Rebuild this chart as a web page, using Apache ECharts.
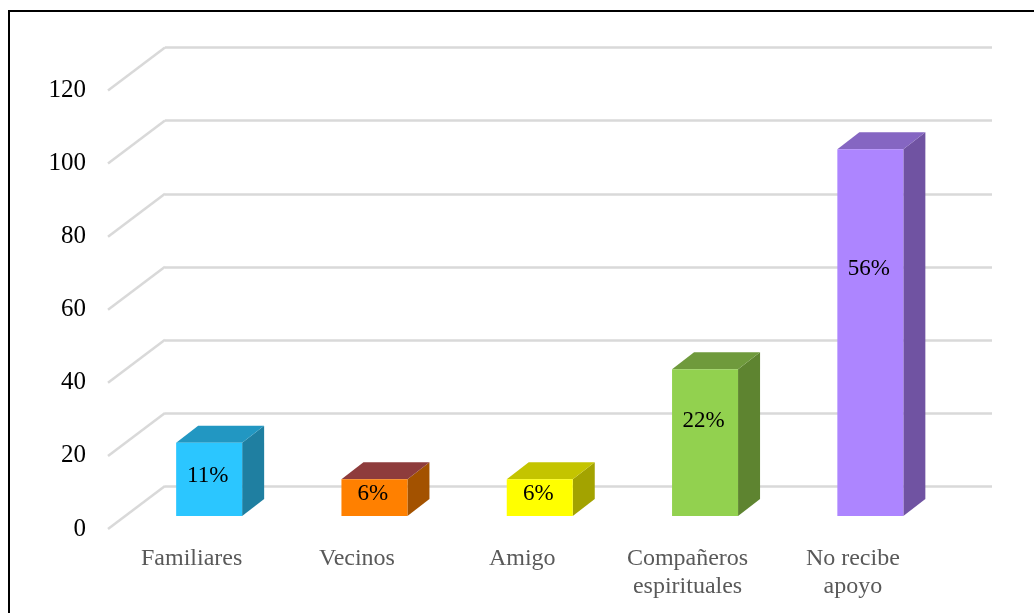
<!DOCTYPE html>
<html>
<head>
<meta charset="utf-8">
<style>html,body{margin:0;padding:0;background:#fff}#c{width:1034px;height:613px}</style>
<script src="https://cdn.jsdelivr.net/npm/echarts@6/dist/echarts.min.js"></script>
</head>
<body>
<div id="c"></div>
<script>
const categories = ['Familiares', 'Vecinos', 'Amigo', 'Compañeros\nespirituales', 'No recibe\napoyo'];
const values = [20, 10, 10, 40, 100];
const percentLabels = ['11%', '6%', '6%', '22%', '56%'];
const yTicks = [0, 20, 40, 60, 80, 100, 120];

const faceColors = ['#2BC6FF', '#FF8000', '#FFFF00', '#92D14F', '#AD85FF'];
const sideColors = ['#1F7FA1', '#A35200', '#A3A300', '#5E8430', '#7053A2'];
const topColors = ['#2297C2', '#8E3C3C', '#C4C400', '#6F9A3C', '#8566C2'];
const labelShift = [-3, -4, -4, -22, -64];
const FONT = '"Liberation Serif", "Times New Roman", serif';
const GRID_LINE = '#D9D9D9';
const WALL = { dx: 57, dy: -43 };
const BOX = { dx: 22, dy: -17, width: 66 };

const chart = echarts.init(document.getElementById('c'), null, { renderer: 'canvas' });

function hiddenCat(gridIndex) {
  return { type: 'category', gridIndex, data: categories, axisLine: { show: false }, axisTick: { show: false }, axisLabel: { show: false }, splitLine: { show: false } };
}
function valueAxis(gridIndex, extra) {
  return Object.assign({
    type: 'value', gridIndex, min: yTicks[0], max: yTicks[yTicks.length - 1], interval: yTicks[1] - yTicks[0],
    axisLine: { show: false }, axisTick: { show: false }, axisLabel: { show: false }, splitLine: { show: false }
  }, extra);
}

chart.setOption({
  animation: false,
  backgroundColor: '#fff',
  grid: [
    { left: 165, top: 47.5, width: 827, height: 439 },
    { left: 109, top: 90.5, width: 826.5, height: 438.5 },
    { left: 126.5, top: 76, width: 826.5, height: 440 }
  ],
  xAxis: [
    hiddenCat(0),
    {
      type: 'category', gridIndex: 1, data: categories,
      axisLine: { show: false }, axisTick: { show: false }, splitLine: { show: false },
      axisLabel: { interval: 0, margin: 16, color: '#595959', fontFamily: FONT, fontSize: 24, lineHeight: 28, verticalAlign: 'top' }
    },
    hiddenCat(2)
  ],
  yAxis: [
    valueAxis(0, { splitLine: { show: true, lineStyle: { color: GRID_LINE, width: 2.5 } } }),
    valueAxis(1, { axisLabel: { show: true, margin: 23, color: '#000', fontFamily: FONT, fontSize: 25, padding: [4, 0, 0, 0] } }),
    valueAxis(2)
  ],
  series: [
    {
      type: 'custom', xAxisIndex: 1, yAxisIndex: 1, silent: true, z: 2,
      data: yTicks.map(v => [0, v]),
      renderItem(params, api) {
        const y = api.coord([0, api.value(1)])[1];
        const x = params.coordSys.x;
        return {
          type: 'line',
          shape: { x1: x - 1, y1: y, x2: x - 1 + WALL.dx, y2: y + WALL.dy },
          style: { stroke: GRID_LINE, lineWidth: 2.5, fill: null }
        };
      }
    },
    {
      type: 'custom', xAxisIndex: 2, yAxisIndex: 2, silent: true, z: 5,
      data: values.map((v, i) => [i, v]),
      renderItem(params, api) {
        const i = api.value(0);
        const top = api.coord([i, api.value(1)]);
        const base = api.coord([i, 0]);
        const l = top[0] - BOX.width / 2, r = top[0] + BOX.width / 2;
        const t = top[1], b = base[1];
        const dx = BOX.dx, dy = BOX.dy;
        return {
          type: 'group',
          children: [
            { type: 'polygon', shape: { points: [[r, t], [r + dx, t + dy], [r + dx, b + dy], [r, b]] }, style: { fill: sideColors[i] } },
            { type: 'polygon', shape: { points: [[l, t], [l + dx, t + dy], [r + dx, t + dy], [r, t]] }, style: { fill: topColors[i] } },
            { type: 'rect', shape: { x: l, y: t, width: BOX.width, height: b - t }, style: { fill: faceColors[i] } },
            {
              type: 'text', z2: 10,
              style: {
                text: percentLabels[i], x: top[0] - 1.5, y: (t + b) / 2 + labelShift[i],
                fill: '#000', font: '23px ' + FONT, align: 'center', verticalAlign: 'middle'
              }
            }
          ]
        };
      }
    }
  ],
  graphic: [
    {
      type: 'polyline', silent: true, z: 100,
      shape: { points: [[9, 613], [9, 11], [1034, 11]] },
      style: { stroke: '#000', lineWidth: 2, fill: null }
    }
  ]
});
</script>
</body>
</html>
